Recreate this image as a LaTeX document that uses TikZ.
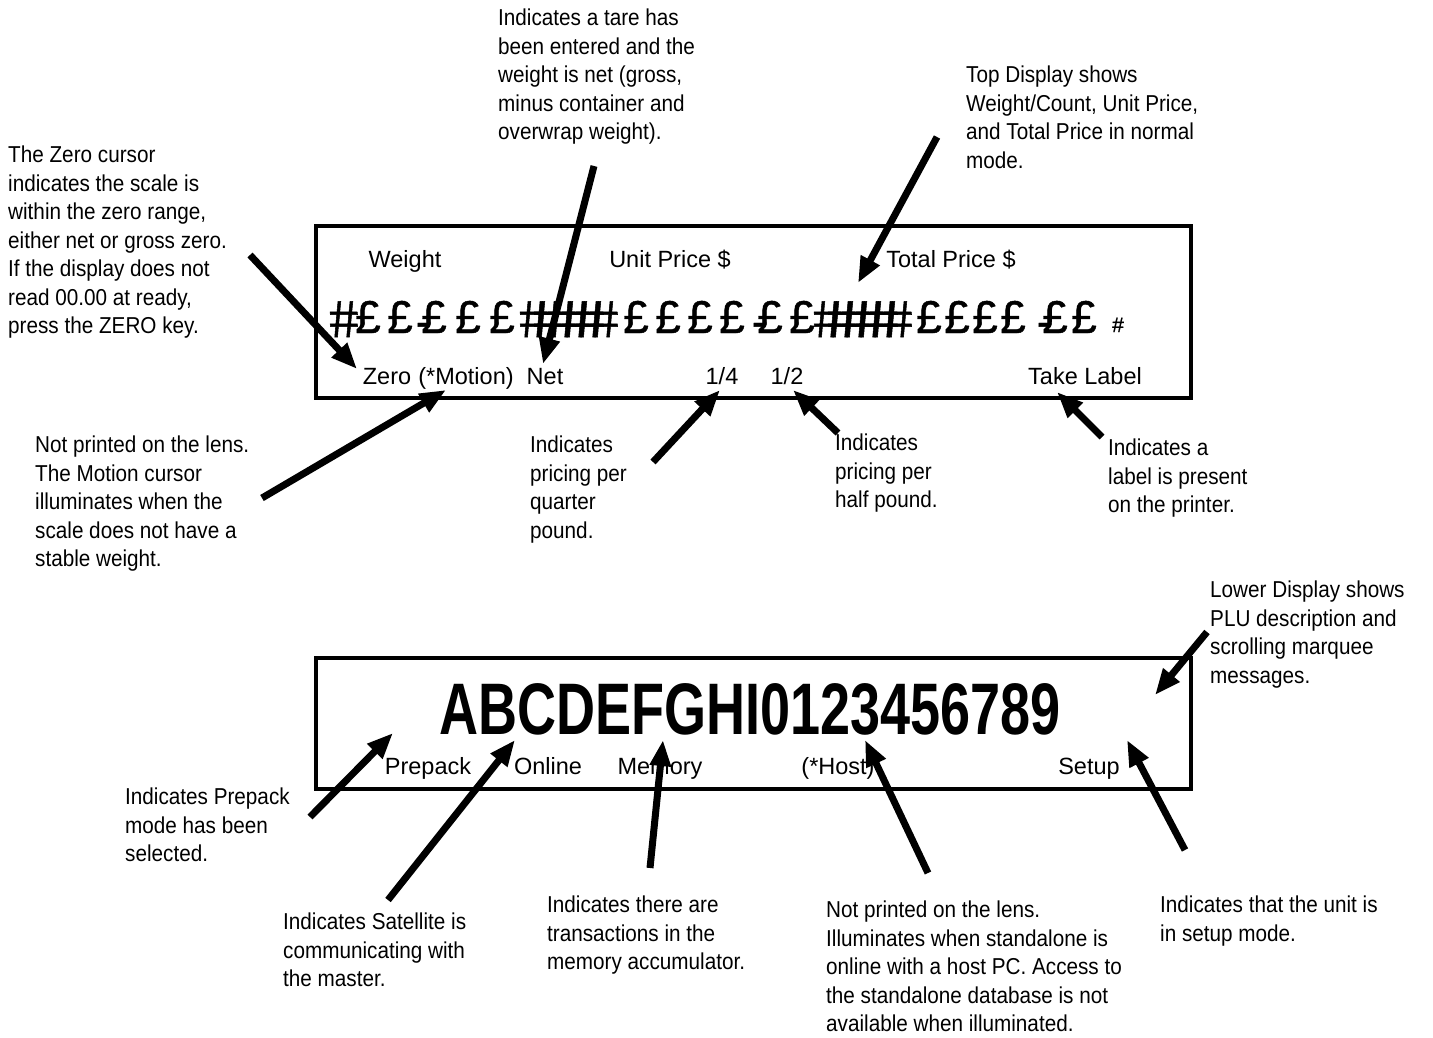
\documentclass[tikz,border=0pt]{standalone}
\usepackage{fontspec}
\setmainfont{Liberation Sans}[FakeStretch=0.9]
\newfontfamily\tagfont{Liberation Sans}
\newfontfamily\segfont{Liberation Sans}[FakeBold=1]
\newfontfamily\hashfont{Liberation Sans}[FakeSlant=-0.12,FakeBold=1]
\newfontfamily\lcdfont{Liberation Sans}[FakeStretch=0.74]
\usetikzlibrary{arrows.meta}
% pound glyph with the decimal stroke in front
\newcommand\dashlb{\makebox[0pt][r]{\raisebox{-4pt}{-}\kern-10pt}£}

\begin{document}
\begin{tikzpicture}[x=1pt,y=-1pt,
    panel/.style={line width=4pt},
    note/.style={anchor=north west,align=left,inner sep=0pt,font=\fontsize{23}{28.5}\selectfont},
    tag/.style={anchor=base,inner sep=0pt,font=\fontsize{23.5}{28.5}\tagfont},
    seg/.style={anchor=base,inner sep=0pt,font=\fontsize{46}{46}\segfont},
    hashseg/.style={anchor=base,inner sep=0pt,font=\fontsize{52}{52}\hashfont},
    pointer/.style={line width=7pt,-{Triangle[length=26pt,width=20pt]}}]
        \useasboundingbox (0,0) rectangle (1433,1038);
    % Top display
        \draw[panel] (316,226) rectangle (1191,398);
        \node[tag] (weight) at (405,267) {Weight};
        \node[tag] (unitprice) at (670,267) {Unit Price \$};
        \node[tag] (totalprice) at (951,267) {Total Price \$};
        % segment characters
        \node[hashseg] (hashlead) at (346,337) {\#};
        \foreach \x in {368,400,468,502,636,668,700,732,802,929,957,985,1013,1084}
            \node[seg] (lb\x) at (\x,333) {£};
        \foreach \x in {434,770,1055}
            \node[seg] (dlb\x) at (\x,333) {\dashlb};
        \foreach \x in {536,550,564,578,592,606,830,844,858,872,886,900}
            \node[hashseg] (hash\x) at (\x,337) {\#};
        \node[tag,font=\fontsize{21}{21}\segfont] (hashend) at (1118,332) {\#};
        % cursor labels
        \node[tag] (zero) at (387,384) {Zero};
        \node[tag] (motion) at (466,384) {(*Motion)};
        \node[tag] (net) at (545,384) {Net};
        \node[tag] (quarter) at (722,384) {1/4};
        \node[tag] (half) at (787,384) {1/2};
        \node[tag] (takelabel) at (1085,384) {Take Label};
    % Lower display
        \draw[panel] (316,658) rectangle (1191,789);
        \node[anchor=base,inner sep=0pt,font=\fontsize{73}{73}\lcdfont\bfseries] (marquee) at (750,734) {ABCDEFGHI0123456789};
        \node[tag] (prepack) at (428,774) {Prepack};
        \node[tag] (online) at (548,774) {Online};
        \node[tag] (memory) at (660,774) {Memory};
        \node[tag] (host) at (838,774) {(*Host)};
        \node[tag] (setup) at (1089,774) {Setup};
    % Notes
        \node[note] (zeronote) at (8,146) {The Zero cursor\\indicates the scale is\\within the zero range,\\either net or gross zero.\\If the display does not\\read 00.00 at ready,\\press the ZERO key.};
        \node[note] (tarenote) at (498,9) {Indicates a tare has\\been entered and the\\weight is net (gross,\\minus container and\\overwrap weight).};
        \node[note] (topnote) at (966,66) {Top Display shows\\Weight/Count, Unit Price,\\and Total Price in normal\\mode.};
        \node[note] (motionnote) at (35,436) {Not printed on the lens.\\The Motion cursor\\illuminates when the\\scale does not have a\\stable weight.};
        \node[note] (quarternote) at (530,436) {Indicates\\pricing per\\quarter\\pound.};
        \node[note] (halfnote) at (835,434) {Indicates\\pricing per\\half pound.};
        \node[note] (labelnote) at (1108,439) {Indicates a\\label is present\\on the printer.};
        \node[note] (lowernote) at (1210,581) {Lower Display shows\\PLU description and\\scrolling marquee\\messages.};
        \node[note] (prepacknote) at (125,788) {Indicates Prepack\\mode has been\\selected.};
        \node[note] (satnote) at (283,913) {Indicates Satellite is\\communicating with\\the master.};
        \node[note] (memnote) at (547,896) {Indicates there are\\transactions in the\\memory accumulator.};
        \node[note] (hostnote) at (826,901) {Not printed on the lens.\\Illuminates when standalone is\\online with a host PC. Access to\\the standalone database is not\\available when illuminated.};
        \node[note] (setupnote) at (1160,896) {Indicates that the unit is\\in setup mode.};
    % Arrow ends
        \coordinate (zerotail) at (250,255);   \coordinate (zerotip) at (357,369);
        \coordinate (tailnet) at (594,166);    \coordinate (tipnet) at (543,364);
        \coordinate (toptail) at (937,137);    \coordinate (toptip) at (858,283);
        \coordinate (motiontail) at (262,498); \coordinate (motiontip) at (446,390);
        \coordinate (qtail) at (653,462);      \coordinate (qtip) at (720,390);
        \coordinate (htail) at (838,433);      \coordinate (htip) at (793,390);
        \coordinate (labeltail) at (1102,437); \coordinate (labeltip) at (1057,392);
        \coordinate (lowertail) at (1207,632); \coordinate (lowertip) at (1155,695);
        \coordinate (prepacktail) at (310,817);\coordinate (prepacktip) at (393,733);
        \coordinate (sattail) at (388,900);    \coordinate (sattip) at (515,740);
        \coordinate (memtail) at (650,868);    \coordinate (memtip) at (663,740);
        \coordinate (hosttail) at (928,873);   \coordinate (hosttip) at (865,740);
        \coordinate (setuptail) at (1185,850); \coordinate (setuptip) at (1127,740);
    % Arrows
        \foreach \a/\b in {zerotail/zerotip,tailnet/tipnet,toptail/toptip,motiontail/motiontip,qtail/qtip,htail/htip,labeltail/labeltip,lowertail/lowertip,prepacktail/prepacktip,sattail/sattip,memtail/memtip,hosttail/hosttip,setuptail/setuptip}
            \draw[pointer] (\a) -- (\b);
\end{tikzpicture}
\end{document}
